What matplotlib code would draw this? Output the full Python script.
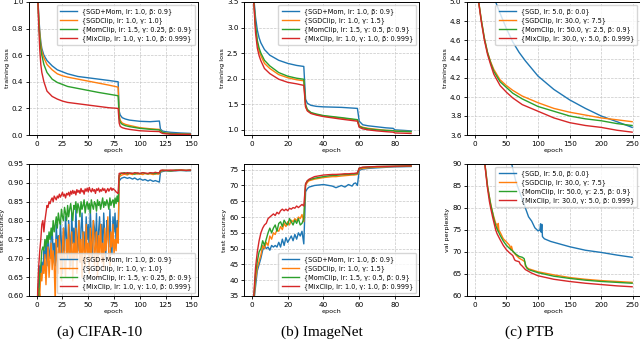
import numpy as np
import matplotlib
matplotlib.use("Agg")
import matplotlib.pyplot as plt

C = ["#1f77b4", "#ff7f0e", "#2ca02c", "#d62728"]

# ---------------- CIFAR-10 ----------------
cifar_labels = ["{SGD+Mom, lr: 1.0, β: 0.9}", "{SGDClip, lr: 1.0, γ: 1.0}",
                "{MomClip, lr: 1.5, γ: 0.25, β: 0.9}", "{MixClip, lr: 1.0, γ: 1.0, β: 0.999}"]
cifar_train_ep = [1, 2, 3, 4, 5, 7, 10, 15, 20, 25, 30, 40, 50, 60, 70, 79, 80, 81, 83, 86,
                  90, 100, 110, 119, 120, 122, 125, 130, 140, 149]
cifar_train_sgdmom = [1.05, 0.9, 0.78, 0.7, 0.65, 0.6, 0.56, 0.52, 0.49, 0.475, 0.46, 0.44, 0.43, 0.42, 0.41, 0.40,
                      0.18, 0.15, 0.13, 0.12, 0.112, 0.103, 0.10, 0.105, 0.045, 0.03, 0.025, 0.02, 0.015, 0.012]
cifar_train_sgdclip = [1.05, 0.88, 0.76, 0.68, 0.63, 0.58, 0.53, 0.49, 0.46, 0.445, 0.435, 0.42, 0.405, 0.39, 0.375, 0.36,
                       0.15, 0.11, 0.09, 0.08, 0.072, 0.055, 0.047, 0.042, 0.032, 0.02, 0.015, 0.011, 0.008, 0.006]
cifar_train_momclip = [1.05, 0.86, 0.73, 0.65, 0.6, 0.53, 0.47, 0.42, 0.395, 0.38, 0.365, 0.35, 0.335, 0.32, 0.307, 0.295,
                       0.13, 0.095, 0.08, 0.07, 0.063, 0.05, 0.043, 0.038, 0.033, 0.02, 0.014, 0.01, 0.007, 0.005]
cifar_train_mixclip = [1.05, 0.82, 0.64, 0.53, 0.47, 0.4, 0.33, 0.29, 0.27, 0.255, 0.245, 0.235, 0.225, 0.215, 0.205, 0.2,
                       0.09, 0.065, 0.055, 0.048, 0.042, 0.032, 0.028, 0.026, 0.02, 0.012, 0.009, 0.006, 0.005, 0.004]

cifar_test_ep_late = [80, 82, 85, 88, 90, 93, 95, 98, 100, 103, 105, 108, 110, 113, 115, 118, 119,
                      120, 122, 125, 130, 135, 140, 145, 149]
cifar_test_sgdmom = [0.45, 0.58, 0.64, 0.68, 0.65, 0.69, 0.66, 0.72, 0.70, 0.74, 0.68, 0.76, 0.72, 0.70, 0.75, 0.78,
                     0.71, 0.74, 0.68, 0.79, 0.73, 0.76, 0.70, 0.80, 0.74, 0.66, 0.78, 0.72, 0.81, 0.75, 0.70, 0.80,
                     0.76, 0.68, 0.82, 0.74, 0.78, 0.71, 0.83, 0.76, 0.72, 0.80, 0.69, 0.78, 0.82, 0.73, 0.77, 0.68,
                     0.81, 0.75, 0.79, 0.72, 0.83, 0.76, 0.70, 0.80, 0.78, 0.73, 0.82, 0.69, 0.77, 0.81, 0.74, 0.79,
                     0.71, 0.82, 0.76, 0.70, 0.80, 0.78, 0.73, 0.83, 0.75, 0.71, 0.81, 0.77, 0.82, 0.74, 0.80, 0.76]
cifar_test_sgdmom_late = [0.905, 0.912, 0.915, 0.912, 0.914, 0.91, 0.913, 0.908, 0.911, 0.907, 0.909, 0.905, 0.908,
                          0.904, 0.906, 0.903, 0.902, 0.928, 0.93, 0.932, 0.931, 0.932, 0.933, 0.932, 0.932]
cifar_test_sgdclip = [0.45, 0.55, 0.62, 0.60, 0.66, 0.64, 0.68, 0.66, 0.71, 0.63, 0.69, 0.73, 0.65, 0.70, 0.74, 0.67,
                      0.72, 0.68, 0.58, 0.75, 0.70, 0.66, 0.76, 0.71, 0.64, 0.73, 0.78, 0.69, 0.65, 0.75, 0.71, 0.79,
                      0.67, 0.72, 0.77, 0.64, 0.74, 0.70, 0.78, 0.66, 0.73, 0.80, 0.69, 0.75, 0.65, 0.77, 0.72, 0.68,
                      0.79, 0.71, 0.74, 0.66, 0.78, 0.70, 0.75, 0.80, 0.68, 0.73, 0.77, 0.65, 0.76, 0.71, 0.79, 0.69,
                      0.74, 0.67, 0.78, 0.72, 0.75, 0.81, 0.70, 0.68, 0.77, 0.73, 0.79, 0.71, 0.75, 0.72, 0.78, 0.74]
cifar_test_sgdclip_late = [0.915, 0.92, 0.923, 0.921, 0.924, 0.922, 0.925, 0.923, 0.924, 0.922, 0.925, 0.923, 0.924,
                           0.922, 0.924, 0.923, 0.924, 0.931, 0.932, 0.933, 0.932, 0.933, 0.934, 0.933, 0.933]
cifar_test_momclip = [0.45, 0.55, 0.60, 0.66, 0.68, 0.72, 0.73, 0.72, 0.75, 0.73, 0.76, 0.74, 0.77, 0.75, 0.78, 0.76,
                      0.80, 0.77, 0.79, 0.81, 0.78, 0.82, 0.80, 0.79, 0.83, 0.81, 0.80, 0.835, 0.82, 0.80, 0.84, 0.81,
                      0.83, 0.845, 0.82, 0.80, 0.84, 0.83, 0.85, 0.82, 0.845, 0.835, 0.81, 0.85, 0.83, 0.84, 0.855, 0.82,
                      0.84, 0.85, 0.83, 0.845, 0.82, 0.855, 0.84, 0.83, 0.85, 0.845, 0.825, 0.855, 0.84, 0.85, 0.83, 0.845,
                      0.86, 0.835, 0.85, 0.84, 0.855, 0.845, 0.83, 0.86, 0.84, 0.85, 0.855, 0.835, 0.86, 0.845, 0.865, 0.85]
cifar_test_momclip_late = [0.92, 0.925, 0.927, 0.924, 0.926, 0.925, 0.923, 0.926, 0.924, 0.927, 0.925, 0.924, 0.926,
                           0.925, 0.924, 0.927, 0.926, 0.932, 0.933, 0.933, 0.932, 0.934, 0.933, 0.933, 0.934]
cifar_test_mixclip = [0.45, 0.62, 0.68, 0.72, 0.75, 0.79, 0.80, 0.77, 0.80, 0.82, 0.84, 0.835, 0.85, 0.845, 0.855, 0.86,
                      0.85, 0.865, 0.86, 0.855, 0.865, 0.86, 0.87, 0.862, 0.868, 0.875, 0.865, 0.87, 0.86, 0.872, 0.868,
                      0.875, 0.865, 0.878, 0.87, 0.88, 0.872, 0.878, 0.868, 0.882, 0.875, 0.88, 0.872, 0.885, 0.876, 0.88,
                      0.87, 0.884, 0.878, 0.886, 0.876, 0.888, 0.88, 0.876, 0.885, 0.878, 0.882, 0.872, 0.884, 0.88, 0.886,
                      0.876, 0.882, 0.878, 0.886, 0.88, 0.884, 0.874, 0.88, 0.885, 0.878, 0.883, 0.887, 0.88, 0.885, 0.882,
                      0.88, 0.876, 0.874, 0.872]
cifar_test_mixclip_late = [0.925, 0.926, 0.925, 0.927, 0.926, 0.925, 0.927, 0.926, 0.925, 0.927, 0.926, 0.925, 0.927,
                           0.926, 0.928, 0.926, 0.927, 0.933, 0.934, 0.933, 0.934, 0.933, 0.934, 0.933, 0.934]

# ---------------- ImageNet ----------------
imnet_labels = ["{SGD+Mom, lr: 1.0, β: 0.9}", "{SGDClip, lr: 1.0, γ: 1.5}",
                "{MomClip, lr: 1.5, γ: 0.5, β: 0.9}", "{MixClip, lr: 1.0, γ: 1.0, β: 0.999}"]
imnet_train_ep = [1, 2, 3, 4, 5, 7, 10, 15, 20, 25, 29, 30, 31, 33, 36, 40, 50, 59, 60, 62, 65, 70, 75, 79, 80, 85, 89]
imnet_train_sgdmom = [3.6, 3.2, 2.95, 2.8, 2.7, 2.57, 2.46, 2.36, 2.3, 2.26, 2.24, 1.6, 1.52, 1.48, 1.46, 1.45, 1.44,
                      1.42, 1.17, 1.1, 1.08, 1.06, 1.04, 1.03, 1.0, 0.99, 0.98]
imnet_train_sgdclip = [3.55, 3.0, 2.7, 2.55, 2.45, 2.3, 2.2, 2.08, 2.02, 1.98, 1.96, 1.45, 1.38, 1.33, 1.3, 1.27, 1.23,
                       1.19, 1.08, 1.05, 1.03, 1.01, 0.99, 0.985, 0.975, 0.97, 0.965]
imnet_train_momclip = [3.55, 3.05, 2.75, 2.6, 2.5, 2.36, 2.25, 2.12, 2.05, 2.01, 1.99, 1.5, 1.4, 1.34, 1.31, 1.28, 1.24,
                       1.2, 1.07, 1.04, 1.02, 1.0, 0.99, 0.985, 0.975, 0.97, 0.965]
imnet_train_mixclip = [3.5, 2.9, 2.6, 2.45, 2.35, 2.2, 2.1, 1.99, 1.93, 1.9, 1.87, 1.45, 1.37, 1.32, 1.29, 1.26, 1.21,
                       1.17, 1.05, 1.02, 1.0, 0.98, 0.965, 0.955, 0.94, 0.935, 0.93]

imnet_test_ep_late = [30, 31, 32, 35, 40, 45, 47, 50, 52, 54, 56, 57, 58, 59, 60, 62, 65, 70, 80, 89]
imnet_test_sgdmom = [30, 33, 38, 43, 45, 47, 49.5, 51, 50, 50.5, 49.5, 51, 50.5, 51, 50.5, 52, 50.5, 53, 51, 53.5, 52,
                     53, 54, 52.5, 54.5, 53, 55, 54, 55.5, 51.5]
imnet_test_sgdmom_late = [68, 69, 69.5, 70, 70.3, 69.8, 69.3, 70, 69.5, 70.3, 69.8, 70.6, 70.8, 70, 74.8, 75.2, 75.4,
                          75.6, 75.9, 76]
imnet_test_sgdclip = [30, 33, 40, 44, 46, 48, 51, 50, 52, 51, 54, 53, 55, 54.5, 56, 55.5, 57, 56, 58, 57, 58.5, 57.5,
                      59, 58.5, 59.5, 58.8, 60, 59.5, 60.8, 58.5]
imnet_test_sgdclip_late = [70, 71, 71.5, 72, 72.5, 72.8, 72.8, 73, 73.1, 73.2, 73.3, 73.3, 73.4, 73.5, 75.2, 75.4, 75.6,
                           75.8, 76, 76.1]
imnet_test_momclip = [30, 34, 42, 46, 49, 50, 52.5, 51, 53, 55, 56.5, 55, 56.5, 57.5, 55.5, 58, 58.5, 57, 59, 58, 57.5,
                      59.5, 58.5, 57.5, 59, 58, 59.5, 57.5, 58, 59.5]
imnet_test_momclip_late = [70.5, 71.5, 71.8, 72.3, 72.8, 73.2, 73.2, 73.4, 73.5, 73.5, 73.6, 73.6, 73.7, 73.8, 75.5, 75.7,
                           75.8, 76, 76.1, 76.2]
imnet_test_mixclip = [30, 35, 44, 49, 52.5, 55, 56.5, 57.5, 58, 59.5, 60, 60.5, 61, 60.5, 61.5, 61, 62, 62.5, 62, 62.5,
                      62, 62.8, 62.5, 63, 62.8, 63.5, 63, 63.5, 64, 63.5]
imnet_test_mixclip_late = [70.5, 71.5, 72, 72.8, 73.3, 73.5, 73.5, 73.6, 73.7, 73.7, 73.8, 73.8, 73.9, 74, 75.5, 75.8,
                           75.9, 76, 76.1, 76.2]

# ---------------- PTB ----------------
ptb_labels = ["{SGD, lr: 5.0, β: 0.0}", "{SGDClip, lr: 30.0, γ: 7.5}",
              "{MomClip, lr: 50.0, γ: 2.5, β: 0.9}", "{MixClip, lr: 30.0, γ: 5.0, β: 0.999}"]
ptb_train_sgd_ep = [25, 30, 40, 50, 60, 70, 80, 100, 125, 150, 175, 200, 225, 249]
ptb_train_sgd = [5.2, 5.05, 4.88, 4.72, 4.58, 4.47, 4.38, 4.22, 4.08, 3.97, 3.88, 3.8, 3.74, 3.68]
ptb_train_ep = [3, 5, 10, 15, 20, 25, 30, 40, 50, 60, 75, 100, 125, 150, 175, 200, 225, 249]
ptb_train_sgdclip = [5.3, 5.05, 4.82, 4.62, 4.47, 4.37, 4.29, 4.18, 4.12, 4.07, 4.01, 3.94, 3.88, 3.84, 3.81, 3.78, 3.76, 3.74]
ptb_train_momclip = [5.3, 5.05, 4.82, 4.62, 4.47, 4.36, 4.27, 4.16, 4.1, 4.04, 3.98, 3.9, 3.85, 3.8, 3.77, 3.75, 3.72, 3.7]
ptb_train_mixclip = [5.3, 5.05, 4.8, 4.6, 4.45, 4.34, 4.24, 4.12, 4.05, 3.99, 3.92, 3.85, 3.78, 3.73, 3.7, 3.68, 3.65, 3.63]

ptb_val_sgd_ep = [55, 60, 65, 70, 75, 80, 85, 90, 95, 100, 103, 104, 105, 106, 107, 110, 120, 150, 175, 200, 225, 249]
ptb_val_sgd = [92, 89, 86, 84, 82, 80, 78, 77, 75.5, 74.8, 75, 76.4, 74.5, 76.3, 73.5, 73, 72.4, 71.2, 70.4, 69.9, 69.3, 68.8]
ptb_val_sgdclip_ep = [12, 15, 18, 20, 23, 25, 28, 30, 33, 35, 36, 37, 38, 40, 45, 50, 55, 57, 58, 60, 62, 65, 70, 75,
                      79, 80, 85, 100, 125, 150, 175, 200, 225, 249]
ptb_val_sgdclip = [95, 91, 87.5, 85, 82.5, 81, 79, 78, 76.5, 76.2, 74.8, 76.5, 75, 74.5, 73, 72.3, 71.5, 70.5, 71.3, 70.2,
                   69.8, 69.3, 68.6, 68.2, 67.8, 66.8, 66.2, 65.5, 64.8, 64.2, 63.8, 63.5, 63.3, 63.1]
ptb_val_momclip_ep = [12, 15, 18, 20, 23, 25, 28, 30, 33, 35, 40, 45, 50, 55, 60, 65, 70, 75, 78, 80, 82, 85, 100,
                      125, 150, 175, 200, 225, 249]
ptb_val_momclip = [95, 91, 87.5, 85, 82.5, 80.8, 79, 77.5, 76, 75.3, 73.8, 72.5, 71.5, 70.8, 70.2, 69.5, 69, 68.8, 68.5,
                   67.2, 66.4, 66, 65.3, 64.5, 64, 63.6, 63.3, 63.1, 62.9]
ptb_val_mixclip_ep = [12, 15, 18, 20, 23, 25, 28, 30, 33, 35, 40, 45, 50, 55, 60, 63, 65, 70, 72, 75, 80, 90, 100,
                      125, 150, 175, 200, 225, 249]
ptb_val_mixclip = [95, 91, 87, 84.5, 81.5, 80, 78, 76.8, 75, 74.2, 72.8, 71.5, 70.5, 69.8, 69.2, 68.2, 68, 67.8, 67.2,
                   66.8, 66, 65.2, 64.6, 63.8, 63.3, 62.9, 62.6, 62.3, 62.1]

captions = ["(a) CIFAR-10", "(b) ImageNet", "(c) PTB"]

# ---------------- figure ----------------
W, H = 640, 342
fig = plt.figure(figsize=(W / 100, H / 100), dpi=100)


def rect(x0, x1, y0, y1):
    return [x0 / W, 1 - y1 / H, (x1 - x0) / W, (y1 - y0) / H]


cols = [(29, 198), (244, 419), (467, 640)]
rows = [(2, 135), (164, 296)]
TICK_FS = 5.2
LAB_FS = 4.6
LEG_FS = 4.7
LW = 1.0


def style(ax, ylabel):
    ax.grid(True, linestyle="--", linewidth=0.5, color="#c8c8c8")
    ax.tick_params(labelsize=TICK_FS, length=2.5, width=0.6, pad=1.5)
    ax.set_xlabel("epoch", fontsize=LAB_FS, labelpad=1)
    ax.set_ylabel(ylabel, fontsize=LAB_FS, labelpad=1.5)
    for s in ax.spines.values():
        s.set_linewidth(0.7)


def leg(ax, loc):
    ax.legend(loc=loc, fontsize=LEG_FS, handlelength=2.6, borderpad=0.5, labelspacing=0.35,
              handletextpad=0.8, borderaxespad=0.4, framealpha=0.8)


axs = [[fig.add_axes(rect(c[0], c[1], r[0], r[1])) for c in cols] for r in rows]

# CIFAR train
ax = axs[0][0]
for ys, c, l in zip([cifar_train_sgdmom, cifar_train_sgdclip, cifar_train_momclip, cifar_train_mixclip], C, cifar_labels):
    ax.plot(cifar_train_ep, ys, color=c, lw=LW, label=l)
ax.set_xlim(-7.45, 156.45)
ax.set_ylim(0, 1.0)
ax.set_xticks([0, 25, 50, 75, 100, 125, 150])
ax.set_yticks([0.0, 0.2, 0.4, 0.6, 0.8, 1.0])
style(ax, "training loss")
leg(ax, "upper right")

# CIFAR test
ax = axs[1][0]
early = np.arange(len(cifar_test_mixclip))
for ys, yl, c, l in zip([cifar_test_sgdmom, cifar_test_sgdclip, cifar_test_momclip, cifar_test_mixclip],
                        [cifar_test_sgdmom_late, cifar_test_sgdclip_late, cifar_test_momclip_late, cifar_test_mixclip_late],
                        C, cifar_labels):
    ax.plot(np.concatenate([early, cifar_test_ep_late]), np.concatenate([ys, yl]), color=c, lw=LW, label=l)
ax.set_xlim(-7.45, 156.45)
ax.set_ylim(0.6, 0.95)
ax.set_xticks([0, 25, 50, 75, 100, 125, 150])
ax.set_yticks([0.60, 0.65, 0.70, 0.75, 0.80, 0.85, 0.90, 0.95])
ax.set_yticklabels(["0.60", "0.65", "0.70", "0.75", "0.80", "0.85", "0.90", "0.95"])
style(ax, "test accuracy")
leg(ax, "lower right")

# ImageNet train
ax = axs[0][1]
for ys, c, l in zip([imnet_train_sgdmom, imnet_train_sgdclip, imnet_train_momclip, imnet_train_mixclip], C, imnet_labels):
    ax.plot(imnet_train_ep, ys, color=c, lw=LW, label=l)
ax.set_xlim(-4.45, 93.45)
ax.set_ylim(0.9, 3.5)
ax.set_xticks([0, 20, 40, 60, 80])
ax.set_yticks([1.0, 1.5, 2.0, 2.5, 3.0, 3.5])
style(ax, "training loss")
leg(ax, "upper right")

# ImageNet test
ax = axs[1][1]
early = np.arange(len(imnet_test_mixclip))
for ys, yl, c, l in zip([imnet_test_sgdmom, imnet_test_sgdclip, imnet_test_momclip, imnet_test_mixclip],
                        [imnet_test_sgdmom_late, imnet_test_sgdclip_late, imnet_test_momclip_late, imnet_test_mixclip_late],
                        C, imnet_labels):
    ax.plot(np.concatenate([early, imnet_test_ep_late]), np.concatenate([ys, yl]), color=c, lw=LW, label=l)
ax.set_xlim(-4.45, 93.45)
ax.set_ylim(35, 76.8)
ax.set_xticks([0, 20, 40, 60, 80])
ax.set_yticks([35, 40, 45, 50, 55, 60, 65, 70, 75])
style(ax, "test accuracy")
leg(ax, "lower right")

# PTB train
ax = axs[0][2]
ax.plot(ptb_train_sgd_ep, ptb_train_sgd, color=C[0], lw=LW, label=ptb_labels[0])
for ys, c, l in zip([ptb_train_sgdclip, ptb_train_momclip, ptb_train_mixclip], C[1:], ptb_labels[1:]):
    ax.plot(ptb_train_ep, ys, color=c, lw=LW, label=l)
ax.set_xlim(-12.45, 261.45)
ax.set_ylim(3.6, 5.0)
ax.set_xticks([0, 50, 100, 150, 200, 250])
ax.set_yticks([3.6, 3.8, 4.0, 4.2, 4.4, 4.6, 4.8, 5.0])
style(ax, "training loss")
leg(ax, "upper right")

# PTB val
ax = axs[1][2]
for ep, ys, c, l in zip([ptb_val_sgd_ep, ptb_val_sgdclip_ep, ptb_val_momclip_ep, ptb_val_mixclip_ep],
                        [ptb_val_sgd, ptb_val_sgdclip, ptb_val_momclip, ptb_val_mixclip], C, ptb_labels):
    ax.plot(ep, ys, color=c, lw=LW, label=l)
ax.set_xlim(-12.45, 261.45)
ax.set_ylim(60, 90)
ax.set_xticks([0, 50, 100, 150, 200, 250])
ax.set_yticks([60, 65, 70, 75, 80, 85, 90])
style(ax, "val perplexity")
leg(ax, "upper right")

for xc, cap in zip([100, 322, 529], captions):
    fig.text(xc / W, 1 - 332 / H, cap, ha="center", va="center", fontsize=11, family="Liberation Serif")

fig.savefig("out.png", dpi=100)
